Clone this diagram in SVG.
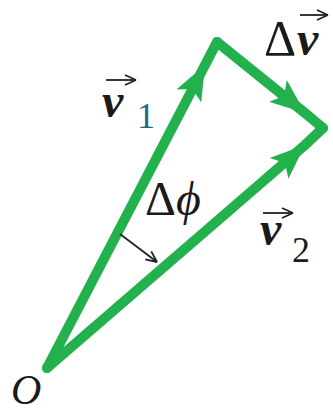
<svg xmlns="http://www.w3.org/2000/svg" width="333" height="417" viewBox="0 0 333 417">
<style>
.vec{fill:none;stroke:#22b14c;stroke-width:10;stroke-linecap:round;stroke-linejoin:miter}
.lbl{font-family:"Liberation Serif",serif;fill:#1a1a1a}
.it{font-style:italic}
.bi{font-style:italic;font-weight:bold}
.sm{fill:none;stroke:#222;stroke-width:1.8}
</style>
<defs>
<marker id="ah" markerUnits="userSpaceOnUse" markerWidth="40" markerHeight="32" refX="0" refY="0" viewBox="-36 -16 40 32" orient="auto">
<path d="M0,0 L-35,-14 L-27,0 L-35,14 z" fill="#22b14c"/>
</marker>
<marker id="sa" markerUnits="userSpaceOnUse" markerWidth="14" markerHeight="12" refX="0" refY="0" viewBox="-13 -6 14 12" orient="auto">
<path d="M0,0 L-11,-5 M0,0 L-11,5" stroke="#222" stroke-width="1.8" fill="none"/>
</marker>
</defs>
<rect width="333" height="417" fill="#fff"/>
<g id="connectors">
<path id="v1" class="vec" d="M47,368 L205,65 L217,42" marker-mid="url(#ah)"/>
<path id="dv" class="vec" d="M217,42 L305,113 L323,128" marker-mid="url(#ah)"/>
<path id="v2" class="vec" d="M47,368 L305,145 L323,128" marker-mid="url(#ah)"/>
<path id="angle" class="sm" d="M120,234 L157,262" marker-end="url(#sa)"/>
</g>
<g id="label-O"><text class="lbl it" x="11" y="404" font-size="42">O</text></g>
<g id="label-v1">
<text class="lbl bi" x="102" y="117" font-size="48">v</text>
<path class="sm" d="M106,80 L136,80" marker-end="url(#sa)"/>
<text class="lbl" x="137" y="128" font-size="36" style="fill:#1b6a86">1</text>
</g>
<g id="label-dv">
<text class="lbl" x="264" y="55" font-size="50">Δ</text>
<text class="lbl bi" x="297" y="55" font-size="48">v</text>
<path class="sm" d="M300,15 L328,15" marker-end="url(#sa)"/>
</g>
<g id="label-dphi">
<text class="lbl" x="145" y="215" font-size="48">Δ<tspan class="it">ϕ</tspan></text>
</g>
<g id="label-v2">
<text class="lbl bi" x="260" y="245" font-size="48">v</text>
<path class="sm" d="M263,213 L293,213" marker-end="url(#sa)"/>
<text class="lbl" x="292" y="262" font-size="36">2</text>
</g>
</svg>
